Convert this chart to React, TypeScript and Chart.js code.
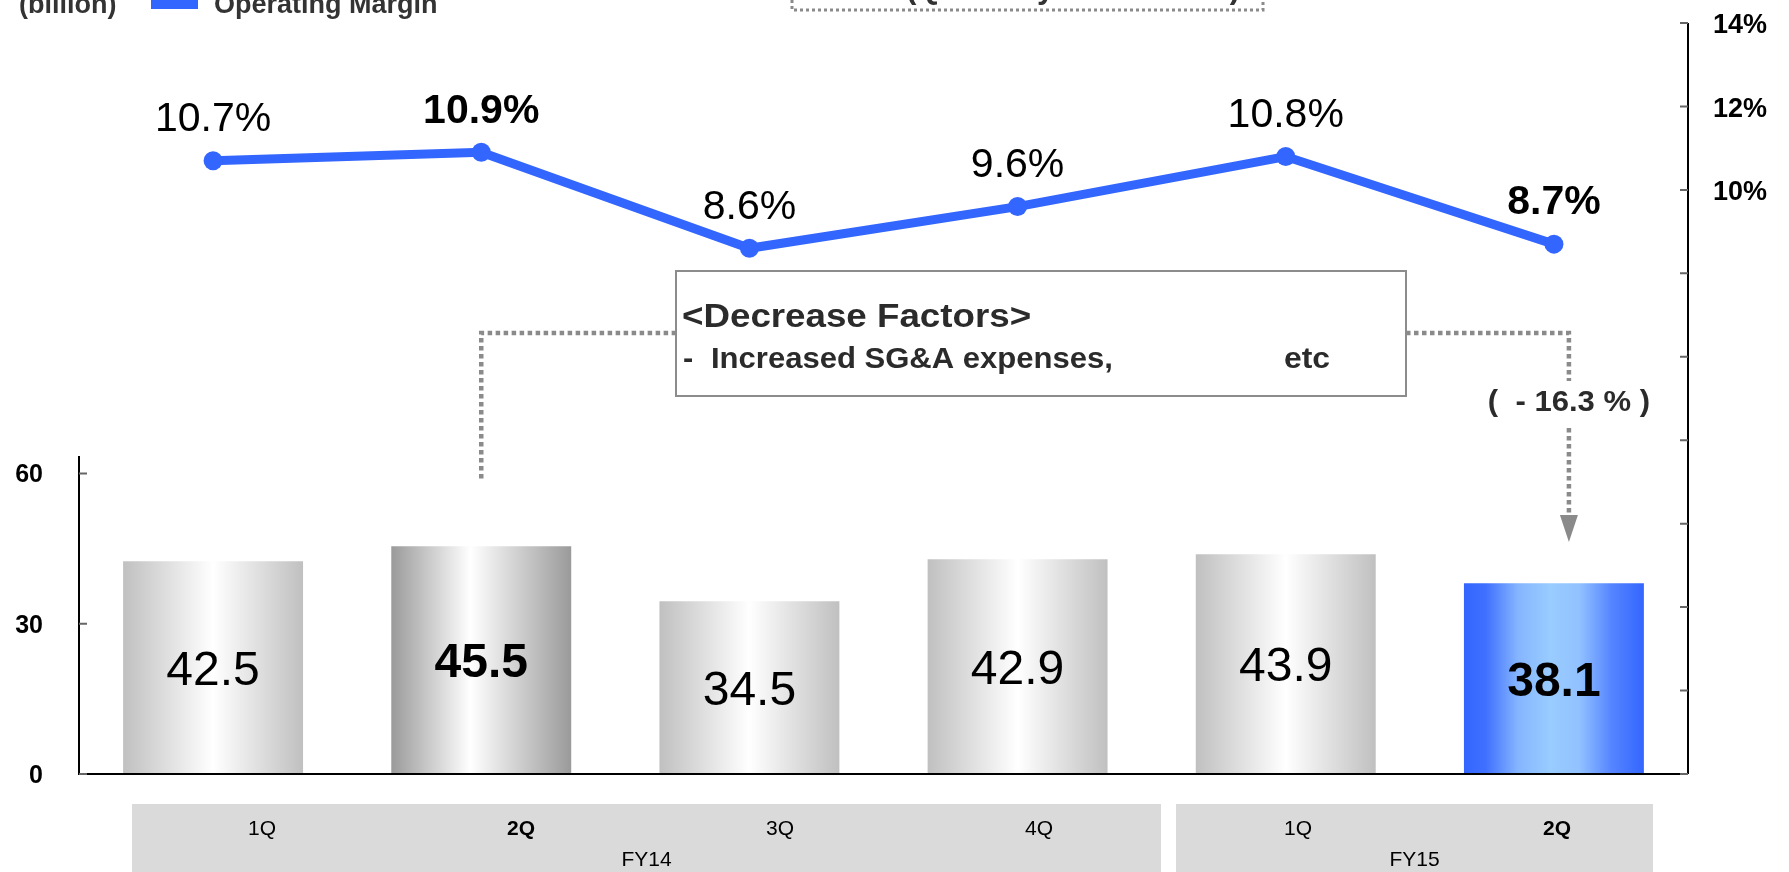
import React, { useEffect, useRef } from "react";
import { Chart, registerables } from "chart.js";

Chart.register(...registerables);

// ---------- data ----------
const categories = ["FY14 1Q", "FY14 2Q", "FY14 3Q", "FY14 4Q", "FY15 1Q", "FY15 2Q"];
const quarterLabels = ["1Q", "2Q", "3Q", "4Q", "1Q", "2Q"];
const quarterBold = [false, true, false, false, false, true];
const fiscalYears = ["FY14", "FY15"];
const operatingIncome = [42.5, 45.5, 34.5, 42.9, 43.9, 38.1];
const operatingMargin = [10.7, 10.9, 8.6, 9.6, 10.8, 8.7];
const leftTicks = [0, 30, 60];
const rightTicks = [-4, -2, 0, 2, 4, 6, 8, 10, 12, 14];
const rightTickLabels = [10, 12, 14];
const unitLabel = "(billion)";
const legendLabel = "Operating Margin";
const topNote = "(Quarterly Breakdown)";
const boxTitle = "<Decrease Factors>";
const boxDash = "-";
const boxLine = "Increased SG&A expenses,";
const boxEtc = "etc";
const changeLabel = "(  - 16.3 % )";

// ---------- style / layout ----------
const BLUE = "#3366FF";
const FONT = "Arial, 'Liberation Sans', sans-serif";
const BAR_PCT = 0.671;
const DOT = "#8a8a8a";

function makeGradient(c: CanvasRenderingContext2D, i: number, left: number, right: number) {
  const g = c.createLinearGradient(left, 0, right, 0);
  if (i === categories.length - 1) {
    g.addColorStop(0, "#3366FF");
    g.addColorStop(0.12, "#3F70FF");
    g.addColorStop(0.3, "#85B5FF");
    g.addColorStop(0.48, "#99CCFF");
    g.addColorStop(0.64, "#92C2FF");
    g.addColorStop(0.82, "#5585FF");
    g.addColorStop(1, "#3366FF");
  } else if (quarterBold[i]) {
    g.addColorStop(0, "#9a9a9a");
    g.addColorStop(0.44, "#ffffff");
    g.addColorStop(1, "#9a9a9a");
  } else {
    g.addColorStop(0, "#c0c0c0");
    g.addColorStop(0.5, "#ffffff");
    g.addColorStop(1, "#c0c0c0");
  }
  return g;
}

function barFill(ctx: any) {
  if (ctx.type !== "data") return "#c8c8c8";
  const chart = ctx.chart;
  const xs = chart.scales && chart.scales.x;
  if (!xs) return "#c8c8c8";
  const w = (xs.width / categories.length) * BAR_PCT;
  const cx = xs.getPixelForValue(ctx.dataIndex);
  if (!isFinite(cx) || !isFinite(w) || w <= 0) return "#c8c8c8";
  return makeGradient(chart.ctx, ctx.dataIndex, cx - w / 2, cx + w / 2);
}

function txt(
  c: CanvasRenderingContext2D,
  s: string,
  x: number,
  y: number,
  font: string,
  color: string,
  align: CanvasTextAlign = "center",
  baseline: CanvasTextBaseline = "middle",
  sx = 1
) {
  c.save();
  c.translate(x, y);
  c.scale(sx, 1);
  c.font = font;
  c.fillStyle = color;
  c.textAlign = align;
  c.textBaseline = baseline;
  c.fillText(s, 0, 0);
  c.restore();
}

function dotted(c: CanvasRenderingContext2D, pts: number[][], width: number, dash: number[]) {
  c.save();
  c.strokeStyle = DOT;
  c.lineWidth = width;
  c.setLineDash(dash);
  c.beginPath();
  pts.forEach((p, k) => (k === 0 ? c.moveTo(p[0], p[1]) : c.lineTo(p[0], p[1])));
  c.stroke();
  c.restore();
}

const decor = {
  id: "decor",
  afterDraw(chart: any) {
    const c: CanvasRenderingContext2D = chart.ctx;
    const area = chart.chartArea;
    const ys = chart.scales.y;
    const y1 = chart.scales.y1;
    const xs = chart.scales.x;

    // axes
    c.save();
    c.strokeStyle = "#000";
    c.lineWidth = 2;
    c.beginPath();
    c.moveTo(area.left, ys.getPixelForValue(63.5));
    c.lineTo(area.left, area.bottom);
    c.lineTo(area.right, area.bottom);
    c.moveTo(area.right, area.top);
    c.lineTo(area.right, area.bottom);
    c.stroke();
    c.strokeStyle = "#666";
    c.beginPath();
    leftTicks.forEach((t) => {
      const y = ys.getPixelForValue(t);
      c.moveTo(area.left, y);
      c.lineTo(area.left + 8, y);
    });
    rightTicks.forEach((t) => {
      const y = y1.getPixelForValue(t);
      c.moveTo(area.right - 8, y);
      c.lineTo(area.right, y);
    });
    c.stroke();
    c.restore();
    leftTicks.forEach((t) =>
      txt(c, String(t), area.left - 36, ys.getPixelForValue(t) + 2, `bold 25px ${FONT}`, "#000", "right")
    );
    rightTickLabels.forEach((t) =>
      txt(c, `${t}%`, area.right + 25, y1.getPixelForValue(t) + 3, `bold 27px ${FONT}`, "#000", "left")
    );

    // bar labels
    const barMeta = chart.getDatasetMeta(0);
    barMeta.data.forEach((b: any, i: number) => {
      txt(
        c,
        operatingIncome[i].toFixed(1),
        b.x,
        (b.y + b.base) / 2 + 4,
        `${quarterBold[i] ? "bold " : ""}48px ${FONT}`,
        "#000"
      );
    });
    // line labels
    const lineMeta = chart.getDatasetMeta(1);
    lineMeta.data.forEach((p: any, i: number) => {
      txt(
        c,
        `${operatingMargin[i].toFixed(1)}%`,
        p.x,
        p.y - 41,
        `${quarterBold[i] ? "bold " : ""}41px ${FONT}`,
        "#000"
      );
    });

    // connector dotted lines
    const xFrom = xs.getPixelForValue(1);
    const xTo = xs.getPixelForValue(5) + 15;
    const yMid = 333;
    dotted(c, [[xFrom, ys.getPixelForValue(59)], [xFrom, yMid], [700, yMid]], 4.5, [4.5, 3.5]);
    dotted(c, [[1390, yMid], [xTo, yMid], [xTo, 381]], 4.5, [4.5, 3.5]);
    dotted(c, [[xTo, 428], [xTo, 515]], 4.5, [4.5, 3.5]);
    c.save();
    c.fillStyle = DOT;
    c.beginPath();
    c.moveTo(xTo - 9, 515);
    c.lineTo(xTo + 9, 515);
    c.lineTo(xTo, 542);
    c.closePath();
    c.fill();
    c.restore();
    txt(c, changeLabel, xTo, 403, `bold 29px ${FONT}`, "#2b2b2b", "center", "middle", 1.07);

    // decrease factors box
    c.save();
    c.fillStyle = "#fff";
    c.fillRect(676, 271, 730, 125);
    c.strokeStyle = "#8c8c8c";
    c.lineWidth = 2;
    c.strokeRect(676, 271, 730, 125);
    c.restore();
    txt(c, boxTitle, 682, 327, `bold 34px ${FONT}`, "#2b2b2b", "left", "alphabetic", 1.08);
    txt(c, boxDash, 683, 368, `bold 29px ${FONT}`, "#2b2b2b", "left", "alphabetic", 1.06);
    txt(c, boxLine, 711, 368, `bold 29px ${FONT}`, "#2b2b2b", "left", "alphabetic", 1.07);
    txt(c, boxEtc, 1284, 368, `bold 29px ${FONT}`, "#2b2b2b", "left", "alphabetic", 1.1);

    // top legend / unit / note (partly cut)
    txt(c, unitLabel, 19, 12.5, `bold 27px ${FONT}`, "#333", "left", "alphabetic");
    c.save();
    c.fillStyle = BLUE;
    c.fillRect(151, -12, 47, 21);
    c.restore();
    txt(c, legendLabel, 214, 12.5, `bold 27px ${FONT}`, "#333", "left", "alphabetic");
    txt(c, topNote, 906, -2, `bold 31px ${FONT}`, "#333", "left", "alphabetic");
    dotted(c, [[792, -6], [792, 10], [1263, 10], [1263, -6]], 3, [3, 3]);

    // category table
    c.save();
    c.fillStyle = "#DADADA";
    c.fillRect(132, 804, 1029, 80);
    c.fillRect(1176, 804, 477, 80);
    c.restore();
    quarterLabels.forEach((q, i) => {
      txt(
        c,
        q,
        area.left + 183 + i * 259,
        829,
        `${quarterBold[i] ? "bold " : ""}21px ${FONT}`,
        "#000"
      );
    });
    txt(c, fiscalYears[0], 132 + 1029 / 2, 860, `21px ${FONT}`, "#000");
    txt(c, fiscalYears[1], 1176 + 477 / 2, 860, `21px ${FONT}`, "#000");
  },
};

export default function App() {
  const ref = useRef<HTMLCanvasElement | null>(null);
  useEffect(() => {
    document.body.style.margin = "0";
    const canvas = ref.current!;
    const chart = new Chart(canvas, {
      data: {
        labels: categories,
        datasets: [
          {
            type: "bar",
            data: operatingIncome,
            yAxisID: "y",
            backgroundColor: barFill as any,
            borderWidth: 0,
            barPercentage: BAR_PCT,
            categoryPercentage: 1,
            order: 2,
          } as any,
          {
            type: "line",
            data: operatingMargin,
            yAxisID: "y1",
            borderColor: BLUE,
            backgroundColor: BLUE,
            borderWidth: 9,
            pointRadius: 9.5,
            pointBackgroundColor: BLUE,
            pointBorderWidth: 0,
            tension: 0,
            order: 1,
          } as any,
        ],
      },
      options: {
        responsive: false,
        animation: false,
        devicePixelRatio: 1,
        layout: { padding: { left: 79, right: 101, top: 23, bottom: 98 } },
        plugins: { legend: { display: false }, tooltip: { enabled: false } },
        scales: {
          x: { display: false, offset: true },
          y: { display: false, min: 0, max: 150 },
          y1: { display: false, min: -4, max: 14, position: "right" },
        },
      },
      plugins: [decor],
    } as any);
    return () => chart.destroy();
  }, []);
  return <canvas ref={ref} width={1789} height={872} style={{ display: "block" }} />;
}
